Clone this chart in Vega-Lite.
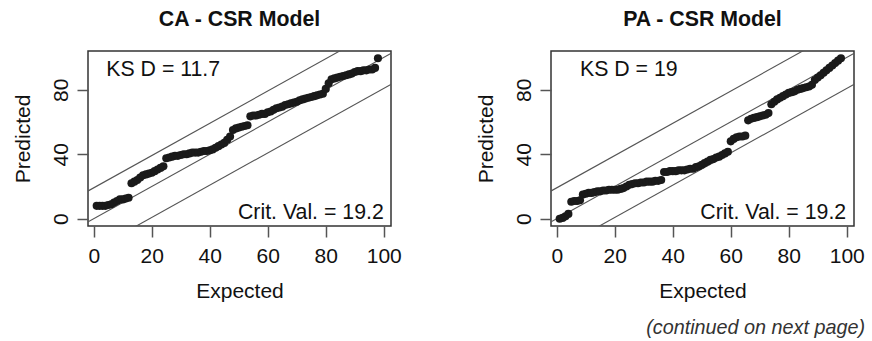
{
  "$schema": "https://vega.github.io/schema/vega-lite/v6.json",
  "padding": {"left": 11, "top": 7, "right": 2, "bottom": 2},
  "spacing": 160,
  "bounds": "flush",
  "title": {"text": "(continued on next page)", "orient": "bottom", "anchor": "end", "frame": "bounds", "fontStyle": "italic", "fontWeight": "normal", "fontSize": 19.8, "font": "Liberation Sans", "color": "#333", "offset": 16},
  "datasets": {
    "ca": [
      {"expected": 1, "predicted": 8}, {"expected": 2, "predicted": 8}, {"expected": 3, "predicted": 8}, {"expected": 4, "predicted": 8}, {"expected": 5, "predicted": 8.5}, {"expected": 6, "predicted": 9}, {"expected": 7, "predicted": 10}, {"expected": 8, "predicted": 11}, {"expected": 9, "predicted": 12}, {"expected": 10, "predicted": 12}, {"expected": 11, "predicted": 12.5}, {"expected": 12, "predicted": 13},
      {"expected": 13, "predicted": 22}, {"expected": 14, "predicted": 23}, {"expected": 15, "predicted": 24}, {"expected": 16, "predicted": 25.5}, {"expected": 17, "predicted": 27}, {"expected": 18, "predicted": 27.5}, {"expected": 19, "predicted": 28}, {"expected": 20, "predicted": 28.5}, {"expected": 21, "predicted": 29.5}, {"expected": 22, "predicted": 30.5}, {"expected": 23, "predicted": 31.5}, {"expected": 24, "predicted": 32.5},
      {"expected": 25, "predicted": 37.5}, {"expected": 26, "predicted": 38}, {"expected": 27, "predicted": 38.5}, {"expected": 28, "predicted": 39}, {"expected": 29, "predicted": 39}, {"expected": 30, "predicted": 39.5}, {"expected": 31, "predicted": 40}, {"expected": 32, "predicted": 40}, {"expected": 33, "predicted": 40.5}, {"expected": 34, "predicted": 41}, {"expected": 35, "predicted": 41}, {"expected": 36, "predicted": 41}, {"expected": 37, "predicted": 41.5}, {"expected": 38, "predicted": 42}, {"expected": 39, "predicted": 42}, {"expected": 40, "predicted": 42.5}, {"expected": 41, "predicted": 43}, {"expected": 42, "predicted": 44}, {"expected": 43, "predicted": 45}, {"expected": 44, "predicted": 46}, {"expected": 45, "predicted": 47}, {"expected": 46, "predicted": 49}, {"expected": 47, "predicted": 51},
      {"expected": 48, "predicted": 55}, {"expected": 49, "predicted": 56}, {"expected": 50, "predicted": 56.5}, {"expected": 51, "predicted": 57}, {"expected": 52, "predicted": 57.5}, {"expected": 53, "predicted": 58},
      {"expected": 54, "predicted": 63.5}, {"expected": 55, "predicted": 64}, {"expected": 56, "predicted": 64}, {"expected": 57, "predicted": 64.5}, {"expected": 58, "predicted": 65}, {"expected": 59, "predicted": 65}, {"expected": 60, "predicted": 66}, {"expected": 61, "predicted": 66.5}, {"expected": 62, "predicted": 67.5}, {"expected": 63, "predicted": 68.5}, {"expected": 64, "predicted": 69}, {"expected": 65, "predicted": 69.5}, {"expected": 66, "predicted": 70.5}, {"expected": 67, "predicted": 71}, {"expected": 68, "predicted": 71.5}, {"expected": 69, "predicted": 72}, {"expected": 70, "predicted": 72.5}, {"expected": 71, "predicted": 73.5}, {"expected": 72, "predicted": 74}, {"expected": 73, "predicted": 74.5}, {"expected": 74, "predicted": 75}, {"expected": 75, "predicted": 75.5}, {"expected": 76, "predicted": 76}, {"expected": 77, "predicted": 76.5}, {"expected": 78, "predicted": 77}, {"expected": 79, "predicted": 77.5},
      {"expected": 80, "predicted": 80.5}, {"expected": 81, "predicted": 84}, {"expected": 82, "predicted": 86.5}, {"expected": 83, "predicted": 87}, {"expected": 84, "predicted": 87.5}, {"expected": 85, "predicted": 88}, {"expected": 86, "predicted": 88.5}, {"expected": 87, "predicted": 89}, {"expected": 88, "predicted": 89.5}, {"expected": 89, "predicted": 90}, {"expected": 90, "predicted": 91}, {"expected": 91, "predicted": 91.5}, {"expected": 92, "predicted": 91.5}, {"expected": 93, "predicted": 92}, {"expected": 94, "predicted": 92}, {"expected": 95, "predicted": 92.5}, {"expected": 96, "predicted": 92.5}, {"expected": 97, "predicted": 93.5}, {"expected": 98, "predicted": 99.5}
    ],
    "pa": [
      {"expected": 1, "predicted": 0}, {"expected": 2, "predicted": 0.5}, {"expected": 3, "predicted": 1.5}, {"expected": 4, "predicted": 3},
      {"expected": 5, "predicted": 10.5}, {"expected": 6, "predicted": 11}, {"expected": 7, "predicted": 11}, {"expected": 8, "predicted": 11.5},
      {"expected": 9, "predicted": 15}, {"expected": 10, "predicted": 15.5}, {"expected": 11, "predicted": 16}, {"expected": 12, "predicted": 16}, {"expected": 13, "predicted": 16.5}, {"expected": 14, "predicted": 17}, {"expected": 15, "predicted": 17}, {"expected": 16, "predicted": 17.5}, {"expected": 17, "predicted": 17.5}, {"expected": 18, "predicted": 18}, {"expected": 19, "predicted": 18}, {"expected": 20, "predicted": 18}, {"expected": 21, "predicted": 18}, {"expected": 22, "predicted": 18.5}, {"expected": 23, "predicted": 19}, {"expected": 24, "predicted": 20}, {"expected": 25, "predicted": 21}, {"expected": 26, "predicted": 21.5}, {"expected": 27, "predicted": 22}, {"expected": 28, "predicted": 22}, {"expected": 29, "predicted": 22.5}, {"expected": 30, "predicted": 22.5}, {"expected": 31, "predicted": 23}, {"expected": 32, "predicted": 23}, {"expected": 33, "predicted": 23}, {"expected": 34, "predicted": 23.5}, {"expected": 35, "predicted": 23.5}, {"expected": 36, "predicted": 24},
      {"expected": 37, "predicted": 29}, {"expected": 38, "predicted": 29}, {"expected": 39, "predicted": 29.5}, {"expected": 40, "predicted": 29.5}, {"expected": 41, "predicted": 29.5}, {"expected": 42, "predicted": 30}, {"expected": 43, "predicted": 30}, {"expected": 44, "predicted": 30}, {"expected": 45, "predicted": 30.5}, {"expected": 46, "predicted": 31}, {"expected": 47, "predicted": 31}, {"expected": 48, "predicted": 32}, {"expected": 49, "predicted": 32.5}, {"expected": 50, "predicted": 33.5}, {"expected": 51, "predicted": 34.5}, {"expected": 52, "predicted": 35.5}, {"expected": 53, "predicted": 36.5}, {"expected": 54, "predicted": 37}, {"expected": 55, "predicted": 38}, {"expected": 56, "predicted": 38.5}, {"expected": 57, "predicted": 39.5}, {"expected": 58, "predicted": 40.5}, {"expected": 59, "predicted": 41.5},
      {"expected": 60, "predicted": 48}, {"expected": 61, "predicted": 49.5}, {"expected": 62, "predicted": 50.5}, {"expected": 63, "predicted": 51}, {"expected": 64, "predicted": 51}, {"expected": 65, "predicted": 51.5},
      {"expected": 66, "predicted": 61}, {"expected": 67, "predicted": 62}, {"expected": 68, "predicted": 62.5}, {"expected": 69, "predicted": 63}, {"expected": 70, "predicted": 63.5}, {"expected": 71, "predicted": 64}, {"expected": 72, "predicted": 64.5}, {"expected": 73, "predicted": 65.5},
      {"expected": 74, "predicted": 71}, {"expected": 75, "predicted": 72.5}, {"expected": 76, "predicted": 74}, {"expected": 77, "predicted": 75}, {"expected": 78, "predicted": 76}, {"expected": 79, "predicted": 77}, {"expected": 80, "predicted": 78}, {"expected": 81, "predicted": 78.5}, {"expected": 82, "predicted": 79}, {"expected": 83, "predicted": 80}, {"expected": 84, "predicted": 80.5}, {"expected": 85, "predicted": 81}, {"expected": 86, "predicted": 81.5}, {"expected": 87, "predicted": 82}, {"expected": 88, "predicted": 83},
      {"expected": 89, "predicted": 86}, {"expected": 90, "predicted": 87.5}, {"expected": 91, "predicted": 89}, {"expected": 92, "predicted": 90.5}, {"expected": 93, "predicted": 92}, {"expected": 94, "predicted": 93.5}, {"expected": 95, "predicted": 95}, {"expected": 96, "predicted": 96.5}, {"expected": 97, "predicted": 98}, {"expected": 98, "predicted": 99.5}
    ],
    "ref": [
      {"line": "upper", "expected": -10, "predicted": 9.2}, {"line": "upper", "expected": 110, "predicted": 129.2},
      {"line": "identity", "expected": -10, "predicted": -10}, {"line": "identity", "expected": 110, "predicted": 110},
      {"line": "lower", "expected": -10, "predicted": -29.2}, {"line": "lower", "expected": 110, "predicted": 90.8}
    ],
    "one": [{}]
  },
  "hconcat": [
    {
      "width": 303, "height": 175,
      "title": {"text": "CA - CSR Model"},
      "layer": [
        {"data": {"name": "ref"}, "mark": {"type": "line", "clip": true, "color": "#555", "strokeWidth": 1.1},
         "encoding": {"x": {"field": "expected", "type": "quantitative"}, "y": {"field": "predicted", "type": "quantitative"}, "detail": {"field": "line"}}},
        {"data": {"name": "ca"}, "mark": {"type": "circle", "size": 66, "color": "#1a1a1a", "opacity": 1},
         "encoding": {
           "x": {"field": "expected", "type": "quantitative", "scale": {"domain": [-2, 102.5], "nice": false, "zero": false}, "axis": {"title": "Expected", "values": [0, 20, 40, 60, 80, 100]}},
           "y": {"field": "predicted", "type": "quantitative", "scale": {"domain": [-4.5, 104], "nice": false, "zero": false}, "axis": {"title": "Predicted", "values": [0, 20, 40, 60, 80, 100], "labelExpr": "datum.value % 40 == 0 ? datum.label : ''", "labelAngle": 270, "labelAlign": "center", "labelBaseline": "bottom"}}
         }},
        {"data": {"name": "one"}, "mark": {"type": "text", "text": "KS D = 11.7", "align": "left", "baseline": "alphabetic", "fontSize": 21.3, "color": "#111"},
         "encoding": {"x": {"datum": 4.3}, "y": {"datum": 88.3}}},
        {"data": {"name": "one"}, "mark": {"type": "text", "text": "Crit. Val. = 19.2", "align": "right", "baseline": "alphabetic", "fontSize": 21.3, "color": "#111"},
         "encoding": {"x": {"datum": 100}, "y": {"datum": 0}}}
      ]
    },
    {
      "width": 303, "height": 175,
      "title": {"text": "PA - CSR Model"},
      "layer": [
        {"data": {"name": "ref"}, "mark": {"type": "line", "clip": true, "color": "#555", "strokeWidth": 1.1},
         "encoding": {"x": {"field": "expected", "type": "quantitative"}, "y": {"field": "predicted", "type": "quantitative"}, "detail": {"field": "line"}}},
        {"data": {"name": "pa"}, "mark": {"type": "circle", "size": 66, "color": "#1a1a1a", "opacity": 1},
         "encoding": {
           "x": {"field": "expected", "type": "quantitative", "scale": {"domain": [-2, 102.5], "nice": false, "zero": false}, "axis": {"title": "Expected", "values": [0, 20, 40, 60, 80, 100]}},
           "y": {"field": "predicted", "type": "quantitative", "scale": {"domain": [-4.5, 104], "nice": false, "zero": false}, "axis": {"title": "Predicted", "values": [0, 20, 40, 60, 80, 100], "labelExpr": "datum.value % 40 == 0 ? datum.label : ''", "labelAngle": 270, "labelAlign": "center", "labelBaseline": "bottom"}}
         }},
        {"data": {"name": "one"}, "mark": {"type": "text", "text": "KS D = 19", "align": "left", "baseline": "alphabetic", "fontSize": 21.3, "color": "#111"},
         "encoding": {"x": {"datum": 8}, "y": {"datum": 88.5}}},
        {"data": {"name": "one"}, "mark": {"type": "text", "text": "Crit. Val. = 19.2", "align": "right", "baseline": "alphabetic", "fontSize": 21.3, "color": "#111"},
         "encoding": {"x": {"datum": 99.8}, "y": {"datum": 0}}}
      ]
    }
  ],
  "config": {
    "font": "Liberation Sans",
    "background": "white",
    "view": {"stroke": "#333", "strokeWidth": 1.5},
    "title": {"fontSize": 21.3, "fontWeight": "bold", "color": "#111", "offset": 21, "anchor": "middle"},
    "axis": {"domain": false, "grid": false, "tickSize": 11, "tickColor": "#555", "tickWidth": 1.5, "labelFontSize": 21, "labelColor": "#111", "titleFontSize": 21, "titleFontWeight": "normal", "titleColor": "#111", "labelFlush": false, "labelOverlap": false},
    "axisX": {"labelPadding": 8, "titlePadding": 14},
    "axisY": {"labelPadding": 6, "titlePadding": 17}
  }
}
